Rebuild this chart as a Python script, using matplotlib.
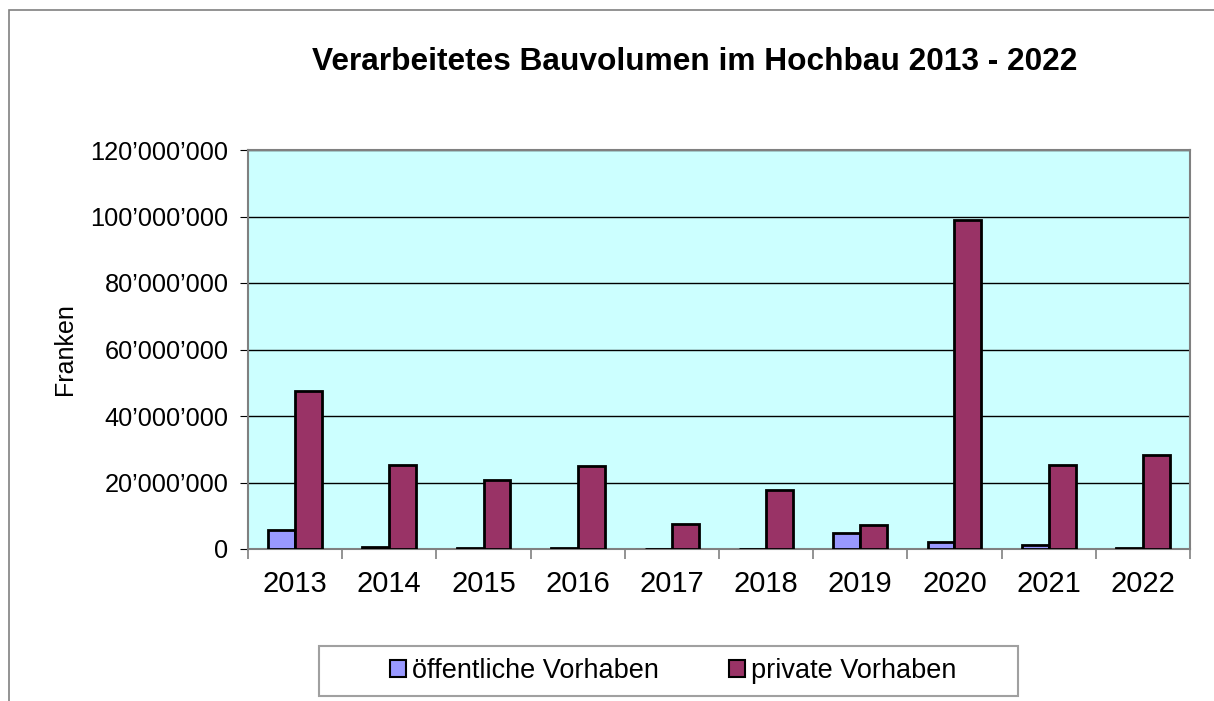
"""Verarbeitetes Bauvolumen im Hochbau 2013 - 2022 (grouped bars)."""
import numpy as np
import matplotlib
matplotlib.use("Agg")
import matplotlib.pyplot as plt
from matplotlib.ticker import FuncFormatter, FixedLocator
from matplotlib.patches import Rectangle

years = ["2013", "2014", "2015", "2016", "2017", "2018", "2019", "2020", "2021", "2022"]
oeffentlich = [5.6e6, 0.6e6, 0.3e6, 0.2e6, 0, 0, 4.7e6, 2.2e6, 1.3e6, 0.2e6]
privat = [47.5e6, 25.2e6, 20.7e6, 25.0e6, 7.6e6, 17.7e6, 7.3e6, 99.0e6, 25.2e6, 28.2e6]
series_names = ["öffentliche Vorhaben", "private Vorhaben"]

plt.rcParams["font.family"] = ["Liberation Sans", "DejaVu Sans"]

W, H = 1214, 701
fig = plt.figure(figsize=(W / 100, H / 100), dpi=100)

# outer chart frame (only left / top visible in the reference)
fig.patches.append(Rectangle((9 / W, -0.1), 1.2, (H - 10) / H + 0.1, transform=fig.transFigure,
                             fill=False, edgecolor="#808080", linewidth=1.2))

ax = fig.add_axes([248 / W, (H - 549) / H, 942 / W, 399 / H])
ax.set_facecolor("#CCFFFF")

x = np.arange(len(years))
bw = 1 / 3.5
ax.bar(x - bw / 2, oeffentlich, bw, color="#9999FF", edgecolor="black", linewidth=2,
       label=series_names[0], zorder=3)
ax.bar(x + bw / 2, privat, bw, color="#993366", edgecolor="black", linewidth=2,
       label=series_names[1], zorder=3)

ax.set_xlim(-0.5, len(years) - 0.5)
ax.set_ylim(0, 120e6)
ax.set_yticks(np.arange(0, 120e6 + 1, 20e6))
ax.yaxis.set_major_formatter(FuncFormatter(lambda v, p: f"{v:,.0f}".replace(",", "’")))
ax.grid(axis="y", color="black", linewidth=1, zorder=1)
ax.set_axisbelow(True)

ax.set_xticks(x)
ax.set_xticklabels(years)
ax.xaxis.set_minor_locator(FixedLocator(np.arange(-0.5, len(years), 1)))
ax.tick_params(axis="x", which="major", length=0, pad=15, labelsize=21)
ax.tick_params(axis="x", which="minor", length=7, color="#808080", width=1.2)
ax.tick_params(axis="y", length=6, color="black", labelsize=18.3, pad=8)

for s in ax.spines.values():
    s.set_color("#808080")
    s.set_linewidth(1.5)

ax.set_ylabel("Franken", fontsize=18, labelpad=10)
fig.text(695 / W, 1 - 62 / H, "Verarbeitetes Bauvolumen im Hochbau 2013 - 2022",
         ha="center", va="center", fontsize=22.8, fontweight="bold")

# legend box drawn separately (wider padding left/right than matplotlib's)
fig.patches.append(Rectangle((319 / W, 1 - 696 / H), 699 / W, 50 / H, transform=fig.transFigure,
                             facecolor="white", edgecolor="#A0A0A0", linewidth=1.5))
leg = fig.legend(loc="center", bbox_to_anchor=(673 / W, 1 - 671 / H), ncol=2, fontsize=19.5,
                 frameon=False, handlelength=0.6, handleheight=0.6, handletextpad=0.2,
                 columnspacing=2.6, borderpad=0.2, borderaxespad=0)
for h in leg.legend_handles:
    h.set_linewidth(1.5)

fig.savefig("out.png", dpi=100)
